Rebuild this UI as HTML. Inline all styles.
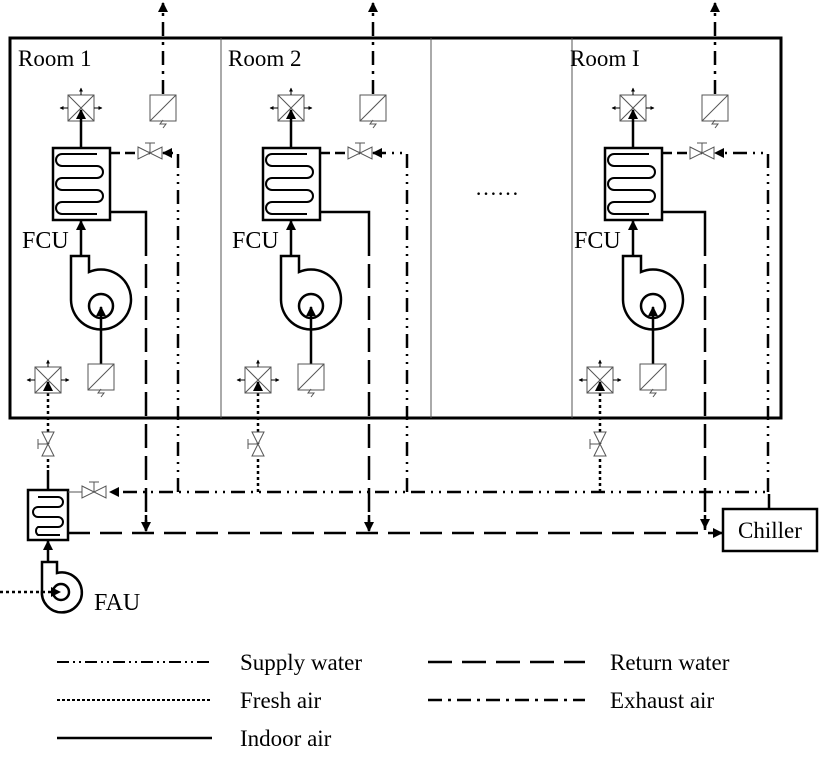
<!DOCTYPE html>
<html><head><meta charset="utf-8"><style>
body{margin:0;background:#fff}
svg{display:block;font-family:"Liberation Serif",serif}
</style></head><body>
<svg id="s" width="820" height="764" viewBox="0 0 820 764">
<defs>
<marker id="ar" viewBox="0 0 10 10" refX="9" refY="5" markerWidth="4" markerHeight="4" orient="auto"><path d="M0,0L10,5L0,10z" fill="#000"/></marker>
</defs>
<rect x="10" y="38" width="771" height="380" fill="none" stroke="#000" stroke-width="3"/>
<line x1="221" y1="38" x2="221" y2="418" stroke="#555" stroke-width="1"/>
<line x1="431" y1="38" x2="431" y2="418" stroke="#555" stroke-width="1"/>
<line x1="572" y1="38" x2="572" y2="418" stroke="#555" stroke-width="1"/>
<text x="475" y="195" font-size="22">……</text>
<g id="rooms"></g>
<path d="M769,508 V492 H110" fill="none" stroke="#000" stroke-width="2.5" stroke-dasharray="14,6,2,6,2,6" marker-end="url(#ar)"/>
<path d="M68,533 H722" fill="none" stroke="#000" stroke-width="2.5" stroke-dasharray="22,10" marker-end="url(#ar)"/>
<rect x="723" y="509" width="94" height="42" fill="#fff" stroke="#000" stroke-width="2.5"/>
<text x="770" y="538" font-size="23" text-anchor="middle">Chiller</text>
<g>
<rect x="28" y="490" width="40" height="50" fill="#fff" stroke="#000" stroke-width="2.5"/>
<path d="M38,497 H58 A5,5 0 0 1 58,507 H38 A5,5 0 0 0 38,517 H58 A5,5 0 0 1 58,527 H38 A5,5 0 0 0 38,535 H60" fill="none" stroke="#000" stroke-width="2"/>
<line x1="48" y1="562" x2="48" y2="541" stroke="#000" stroke-width="2.5" marker-end="url(#ar)"/>
<path d="M42,562 H57 V573 A20,20 0 1 1 42,590 Z" fill="#fff" stroke="#000" stroke-width="2.5"/>
<circle cx="61" cy="592" r="8" fill="none" stroke="#000" stroke-width="2.5"/>
<line x1="0" y1="592" x2="60" y2="592" stroke="#000" stroke-width="2.5" stroke-dasharray="3,3" marker-end="url(#ar)"/>
<line x1="48" y1="489" x2="48" y2="470" stroke="#000" stroke-width="2.5" stroke-dasharray="3,3"/>
<text x="94" y="610" font-size="24">FAU</text>
</g>
<g font-size="23">
<line x1="57" y1="662" x2="212" y2="662" stroke="#000" stroke-width="2" stroke-dasharray="12,4,2,4,2,4"/>
<text x="240" y="670">Supply water</text>
<line x1="57" y1="700" x2="212" y2="700" stroke="#000" stroke-width="2" stroke-dasharray="3,2"/>
<text x="240" y="708">Fresh air</text>
<line x1="57" y1="738" x2="212" y2="738" stroke="#000" stroke-width="2.5"/>
<text x="240" y="746">Indoor air</text>
<line x1="428" y1="662" x2="585" y2="662" stroke="#000" stroke-width="2.5" stroke-dasharray="24,10"/>
<text x="610" y="670">Return water</text>
<line x1="428" y1="700" x2="585" y2="700" stroke="#000" stroke-width="2.5" stroke-dasharray="14,6,3,6"/>
<text x="610" y="708">Exhaust air</text>
</g>
</svg>
<script>
const NS="http://www.w3.org/2000/svg";
const rooms=[{n:"Room 1",off:0,ex:163,ret:146,sup:178},{n:"Room 2",off:210,ex:373,ret:369,sup:407},{n:"Room I",off:552,ex:715,ret:705,sup:768}];
const g=document.getElementById('rooms');
rooms.forEach((r,i)=>{
 const o=r.off;
 const cx=81+o,fx=101+o,dx=48+o;
 let h=`
 <text x="${18+o}" y="66" font-size="23">${r.n}</text>
 <text x="${22+o}" y="248" font-size="24">FCU</text>
 <line x1="${r.ex}" y1="94" x2="${r.ex}" y2="3" stroke="#000" stroke-width="2.5" stroke-dasharray="14,6,3,6" marker-end="url(#ar)"/>
 <rect x="${r.ex-13}" y="95" width="26" height="26" fill="#fff" stroke="#555"/>
 <line x1="${r.ex-13}" y1="121" x2="${r.ex+13}" y2="95" stroke="#555"/>
 <path d="M${r.ex},128 l3,-4 l-6,0 l3,-4" stroke="#555" fill="none"/>
 <rect x="${cx-13}" y="95" width="26" height="26" fill="#fff" stroke="#555"/>
 <path d="M${cx-13},95 L${cx+13},121 M${cx+13},95 L${cx-13},121" stroke="#555"/>
 <line x1="${cx}" y1="95" x2="${cx}" y2="88" stroke="#000" marker-end="url(#ar)"/>
 <line x1="${cx-13}" y1="108" x2="${cx-21}" y2="108" stroke="#000" marker-end="url(#ar)"/>
 <line x1="${cx+13}" y1="108" x2="${cx+21}" y2="108" stroke="#000" marker-end="url(#ar)"/>
 <line x1="${cx}" y1="148" x2="${cx}" y2="110" stroke="#000" stroke-width="2.5" marker-end="url(#ar)"/>
 <rect x="${53+o}" y="148" width="57" height="72" fill="#fff" stroke="#000" stroke-width="2.5"/>
 <path d="M${97+o},154 H${62+o} A6,6 0 0 0 ${62+o},166 H${97+o} A6,6 0 0 1 ${97+o},178 H${62+o} A6,6 0 0 0 ${62+o},190 H${97+o} A6,6 0 0 1 ${97+o},202 H${62+o} A6,6 0 0 0 ${62+o},214 H${97+o}" fill="none" stroke="#000" stroke-width="2"/>
 <path d="M${110+o},212 H${r.ret} V232" fill="none" stroke="#000" stroke-width="2.5"/>
 <line x1="${r.ret}" y1="232" x2="${r.ret}" y2="530" stroke="#000" stroke-width="2.5" stroke-dasharray="24,8"/>
 <line x1="${r.ret}" y1="515" x2="${r.ret}" y2="${i==2?528:531}" stroke="#000" stroke-width="2.5" marker-end="url(#ar)"/>
 <path d="M${r.sup},492 V153 H${r.ex}" fill="none" stroke="#000" stroke-width="2.5" stroke-dasharray="14,6,2,6,2,6" marker-end="url(#ar)"/>
 <line x1="${110+o}" y1="153" x2="${r.ex-12}" y2="153" stroke="#000" stroke-width="2.5" stroke-dasharray="10,5"/>
 <path d="M${r.ex-25},147 L${r.ex-1},159 L${r.ex-1},147 L${r.ex-25},159 Z M${r.ex-13},153 V143 M${r.ex-18},143 H${r.ex-8}" fill="#fff" stroke="#555"/>
 <line x1="${cx}" y1="256" x2="${cx}" y2="221" stroke="#000" stroke-width="2.5" marker-end="url(#ar)"/>
 <path d="M${71+o},256 H${89+o} V272 A30,30 0 1 1 ${71+o},300 Z" fill="#fff" stroke="#000" stroke-width="2.5"/>
 <circle cx="${fx}" cy="306" r="12" fill="none" stroke="#000" stroke-width="2.5"/>
 <line x1="${fx}" y1="364" x2="${fx}" y2="307" stroke="#000" stroke-width="2.5" marker-end="url(#ar)"/>
 <rect x="${fx-13}" y="364" width="26" height="26" fill="#fff" stroke="#555"/>
 <line x1="${fx-13}" y1="390" x2="${fx+13}" y2="364" stroke="#555"/>
 <path d="M${fx},397 l3,-4 l-6,0 l3,-4" stroke="#555" fill="none"/>
 <line x1="${dx}" y1="492" x2="${dx}" y2="382" stroke="#000" stroke-width="2.5" stroke-dasharray="3,3" marker-end="url(#ar)"/>
 <rect x="${dx-13}" y="367" width="26" height="26" fill="none" stroke="#555"/>
 <path d="M${dx-13},367 L${dx+13},393 M${dx+13},367 L${dx-13},393" stroke="#555"/>
 <line x1="${dx}" y1="367" x2="${dx}" y2="360" stroke="#000" marker-end="url(#ar)"/>
 <line x1="${dx-13}" y1="380" x2="${dx-21}" y2="380" stroke="#000" marker-end="url(#ar)"/>
 <line x1="${dx+13}" y1="380" x2="${dx+21}" y2="380" stroke="#000" marker-end="url(#ar)"/>
 <path d="M${dx-6},432 L${dx+6},456 L${dx-6},456 L${dx+6},432 Z M${dx},444 H${dx-10} M${dx-10},439 V449" fill="#fff" stroke="#555"/>
 `;
 const grp=document.createElementNS(NS,'g');
 
 
 grp.innerHTML=h;
 g.appendChild(grp);
});
const s=document.getElementById('s');
const v=document.createElementNS(NS,'path');
v.setAttribute('d','M82,486 L106,498 L106,486 L82,498 Z M94,492 V482 M89,482 H99 M68,492 H82');
v.setAttribute('fill','#fff');v.setAttribute('stroke','#555');


s.appendChild(v);
</script>
</body></html>
